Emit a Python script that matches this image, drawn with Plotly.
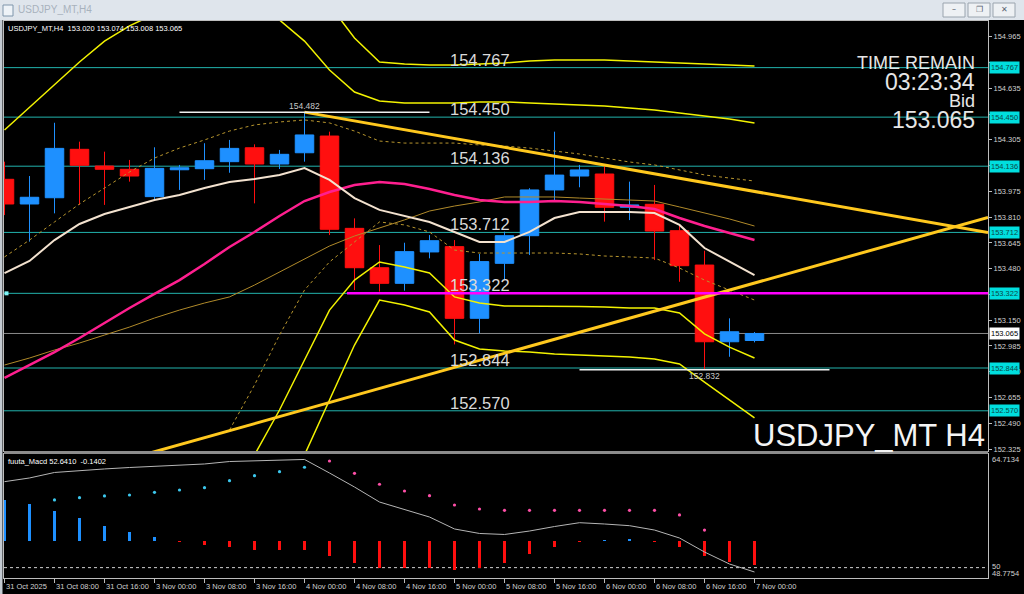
import plotly.graph_objects as go

FONT = "Liberation Sans, Arial, sans-serif"

# ---------------- data ----------------
candle_idx = list(range(31))
opens = [154.052, 153.894, 153.934, 154.244, 154.137, 154.116, 153.941, 154.113, 154.120, 154.165,
         154.254, 154.150, 154.222, 154.329, 153.738, 153.486, 153.386, 153.587, 153.621, 153.162,
         153.514, 153.691, 153.984, 154.073, 154.086, 153.873, 153.892, 153.723, 153.503, 153.012, 153.020]
highs = [154.165, 154.073, 154.414, 154.293, 154.229, 154.176, 154.257, 154.144, 154.283, 154.304,
         154.276, 154.240, 154.482, 154.357, 153.802, 153.631, 153.646, 153.695, 153.663, 153.574,
         153.717, 153.995, 154.357, 154.144, 154.144, 154.037, 154.016, 153.759, 153.595, 153.162, 153.074]
lows = [153.823, 153.653, 153.834, 153.888, 153.888, 154.037, 153.919, 153.984, 154.048, 154.094,
        153.898, 154.118, 154.165, 153.695, 153.343, 153.333, 153.339, 153.546, 152.995, 153.066,
        153.407, 153.567, 153.909, 154.001, 153.781, 153.791, 153.535, 153.396, 152.832, 152.916, 153.008]
closes = [153.894, 153.937, 154.250, 154.142, 154.116, 154.073, 154.122, 154.126, 154.171, 154.250,
          154.150, 154.212, 154.336, 153.732, 153.486, 153.386, 153.589, 153.659, 153.162, 153.525,
          153.691, 153.984, 154.079, 154.112, 153.873, 153.888, 153.721, 153.499, 153.012, 153.076, 153.065]

tick_idx = [0, 2, 4, 6, 8, 10, 12, 14, 16, 18, 20, 22, 24, 26, 28, 30]
tick_labels = ["31 Oct 2025", "31 Oct 08:00", "31 Oct 16:00", "3 Nov 00:00", "3 Nov 08:00",
               "3 Nov 16:00", "4 Nov 00:00", "4 Nov 08:00", "4 Nov 16:00", "5 Nov 00:00",
               "5 Nov 08:00", "5 Nov 16:00", "6 Nov 00:00", "6 Nov 08:00", "6 Nov 16:00", "7 Nov 00:00"]

price_ticks = [152.325, 152.490, 152.655, 152.820, 152.985, 153.150, 153.315, 153.480, 153.645,
               153.810, 153.975, 154.140, 154.305, 154.470, 154.635, 154.800, 154.965]
# ticks whose labels are covered by level tags on the price scale
hidden_ticks = [153.315, 154.140, 154.470, 154.800]

pink_ma = [152.780, 152.863, 152.946, 153.036, 153.132, 153.228, 153.318, 153.407, 153.510, 153.619,
           153.715, 153.817, 153.913, 153.971, 154.016, 154.035, 154.022, 153.990, 153.952, 153.920,
           153.907, 153.907, 153.913, 153.907, 153.894, 153.881, 153.862, 153.804, 153.753, 153.708, 153.663]
white_ma = [153.452, 153.529, 153.663, 153.766, 153.830, 153.875, 153.920, 153.952, 153.996, 154.035,
            154.054, 154.080, 154.124, 154.048, 153.932, 153.856, 153.817, 153.779, 153.715, 153.651,
            153.651, 153.715, 153.804, 153.843, 153.843, 153.843, 153.836, 153.760, 153.612, 153.523, 153.439]
band_up = [153.555, 153.663, 153.779, 153.894, 153.996, 154.099, 154.188, 154.252, 154.304, 154.361,
           154.400, 154.419, 154.432, 154.413, 154.361, 154.297, 154.284, 154.284, 154.284, 154.272,
           154.265, 154.252, 154.233, 154.214, 154.188, 154.163, 154.144, 154.112, 154.080, 154.060, 154.041]
band_mid = [152.863, 152.908, 152.959, 153.004, 153.055, 153.106, 153.164, 153.215, 153.260, 153.299,
            153.375, 153.459, 153.542, 153.625, 153.689, 153.740, 153.792, 153.849, 153.881, 153.907,
            153.939, 153.939, 153.939, 153.932, 153.926, 153.920, 153.913, 153.875, 153.836, 153.798, 153.753]
band_lo = [None, None, None, None, None, None, None, None, None, 152.447,
           152.735, 153.055, 153.343, 153.523, 153.651, 153.779, 153.760, 153.715, 153.599, 153.580,
           153.580, 153.580, 153.580, 153.574, 153.561, 153.555, 153.548, 153.484, 153.407, 153.343, 153.279]
env_up_in = [154.368, 154.515, 154.662, 154.803, 154.937, 155.034, 155.110, None, None, None,
             None, 155.072, 154.937, 154.752, 154.611, 154.553, 154.541, 154.541, 154.541, 154.547,
             154.547, 154.541, 154.534, 154.528, 154.521, 154.509, 154.496, 154.477, 154.457, 154.438, 154.413]
env_up_out = [None] * 13 + [155.168, 154.957, 154.803, 154.790, 154.784, 154.784, 154.790,
                            154.797, 154.809, 154.816, 154.816, 154.816, 154.809, 154.803, 154.797,
                            154.790, 154.784, 154.777]
env_lo_in = [None] * 10 + [152.287, 152.575, 152.895, 153.215, 153.407, 153.523, 153.491, 153.452,
                           153.299, 153.260, 153.241, 153.241, 153.241, 153.238, 153.235, 153.228,
                           153.228, 153.196, 153.062, 152.978, 152.908]
env_lo_out = [None] * 12 + [152.287, 152.639, 152.991, 153.279, 153.247, 153.203, 153.023, 152.966,
                            152.953, 152.946, 152.934, 152.927, 152.921, 152.914, 152.902, 152.870,
                            152.754, 152.639, 152.524]

# trend lines: (candle index, price) end points
trend_down_x = [12, 39.34]
trend_down_y = [154.482, 153.711]
trend_up_x = [5.6, 39.34]
trend_up_y = [152.290, 153.808]

levels = [154.767, 154.450, 154.136, 153.712, 153.322, 152.844, 152.570]
magenta_level = 153.322
magenta_start = 13.7
bid = 153.065
hi_mark = (12, 154.482)
lo_mark = (28, 152.832)
header = "USDJPY_MT,H4\u00a0\u00a0153.020 153.074 153.008 153.065"

# oscillator panel
macd_line = [61.23, 61.71, 62.43, 62.69, 62.89, 63.08, 63.21, 63.41, 63.54, 63.86, 63.93, 63.99,
             64.13, 62.36, 60.53, 58.57, 57.59, 56.61, 55.05, 54.46, 54.33, 54.78, 55.37, 55.87,
             55.70, 55.48, 54.91, 53.87, 52.04, 50.47, 49.43]
macd_hist = [5.36, 4.79, 3.92, 3.04, 2.00, 1.14, 0.48, -0.10, -0.52, -0.74, -1.14, -1.18, -1.18,
             -1.96, -2.91, -3.57, -3.53, -3.53, -3.79, -3.53, -2.87, -1.70, -0.78, -0.10, 0.10,
             0.15, -0.10, -0.74, -1.96, -2.74, -3.14]
hist_base = 53.478
macd_dots = [None, None, 58.84, 59.14, 59.36, 59.49, 59.84, 60.14, 60.44, 61.36, 62.01, 62.53,
             63.11, 63.93, 62.32, 60.89, 60.01, 59.40, 58.18, 57.66, 57.49, 57.49, 57.49, 57.49,
             57.49, 57.49, 57.49, 56.88, 54.91, None, None]
osc_max, osc_level, osc_min = 64.7134, 50, 48.7754
osc_header = "fuuta_Macd 52.6410\u00a0\u00a0-0.1402"

# ---------------- styling ----------------
BULL = "#1E90FF"
BEAR = "#FF0F0F"
LEVEL_C = "#22b3ad"
AX_C = "#bdbdbd"
TXT_C = "#d0d0d0"

W, H = 1024, 594
L, R, T, B = 4, 36, 21, 16
PW, PH = W - L - R, H - T - B


def fx(px):
    return (px - L) / PW


def fy(py):
    return (H - B - py) / PH


XR = [-0.02, 39.34]
main_dom = [fy(451), 1]
osc_dom = [0, fy(454)]

fig = go.Figure()

fig.add_trace(go.Candlestick(
    x=candle_idx, open=opens, high=highs, low=lows, close=closes,
    increasing=dict(line=dict(color=BULL, width=1), fillcolor=BULL),
    decreasing=dict(line=dict(color=BEAR, width=1), fillcolor=BEAR),
    whiskerwidth=0, xaxis="x", yaxis="y", hoverinfo="skip", showlegend=False))


def line(y, color, width, dash="solid", x=candle_idx):
    fig.add_trace(go.Scatter(x=x, y=y, mode="lines", line=dict(color=color, width=width, dash=dash),
                             xaxis="x", yaxis="y", hoverinfo="skip", showlegend=False,
                             connectgaps=False))


line(band_up, "#b8962e", 1, "3px,3px")
line(band_lo, "#b8962e", 1, "3px,3px")
line(band_mid, "#b08a2a", 1)
line(env_up_in, "#f2f200", 1.5)
line(env_up_out, "#f2f200", 1.5)
line(env_lo_in, "#f2f200", 1.5)
line(env_lo_out, "#f2f200", 1.5)
line(pink_ma, "#ff1f8f", 2.5)
line(white_ma, "#f3e2cf", 2)
line(trend_down_y, "#ffc81e", 3, x=trend_down_x)
line(trend_up_y, "#ffc81e", 3, x=trend_up_x)

# small anchor handle of the magenta level at the left edge
fig.add_trace(go.Scatter(x=[XR[0] + 0.1], y=[magenta_level], mode="markers",
                         marker=dict(symbol="square", size=4, color="#7ff5f5"),
                         xaxis="x", yaxis="y", hoverinfo="skip", showlegend=False, cliponaxis=False))

# oscillator
fig.add_trace(go.Bar(x=candle_idx, y=macd_hist, base=hist_base, width=0.12,
                     marker=dict(color=[BULL if v >= 0 else BEAR for v in macd_hist], line=dict(width=0)),
                     xaxis="x2", yaxis="y2", hoverinfo="skip", showlegend=False))
fig.add_trace(go.Scatter(x=candle_idx, y=macd_line, mode="lines", line=dict(color="#b5b5b5", width=1),
                         xaxis="x2", yaxis="y2", hoverinfo="skip", showlegend=False))
fig.add_trace(go.Scatter(x=candle_idx, y=macd_dots, mode="markers",
                         marker=dict(size=3.2, color=["#3cc8ee" if i <= 12 else "#ff4fa8" for i in candle_idx]),
                         xaxis="x2", yaxis="y2", hoverinfo="skip", showlegend=False))

shapes = []
annotations = []

# level lines
for lv in levels:
    shapes.append(dict(type="line", xref="paper", x0=0, x1=1, yref="y", y0=lv, y1=lv,
                       line=dict(color=LEVEL_C, width=1), layer="below"))
    annotations.append(dict(xref="x", x=19, yref="y", y=lv, text=f"{lv:.3f}", showarrow=False,
                            xanchor="center", yanchor="bottom", yshift=-2, borderpad=0,
                            font=dict(family=FONT, size=16.5, color="#dadada")))
    annotations.append(dict(xref="paper", x=1, xshift=1, yref="y", y=lv, text=f"{lv:.3f}",
                            showarrow=False, xanchor="left", yanchor="middle", borderpad=1,
                            bgcolor="#00dede", font=dict(family=FONT, size=7.5, color="#0b4848")))
# bid line
shapes.append(dict(type="line", xref="paper", x0=0, x1=1, yref="y", y0=bid, y1=bid,
                   line=dict(color="#8a8a8a", width=1), layer="below"))
annotations.append(dict(xref="paper", x=1, xshift=1, yref="y", y=bid, text=f"{bid:.3f}",
                        showarrow=False, xanchor="left", yanchor="middle", borderpad=1,
                        bgcolor="#ffffff", font=dict(family=FONT, size=7.5, color="#000000")))
# magenta level
shapes.append(dict(type="line", xref="x", x0=magenta_start, x1=XR[1], yref="y", y0=magenta_level,
                   y1=magenta_level, line=dict(color="#ff00ff", width=2.5), layer="above"))
# high / low marks
for (ci, pv), below in ((hi_mark, False), (lo_mark, True)):
    shapes.append(dict(type="line", xref="x", x0=ci - 5, x1=ci + 5, yref="y", y0=pv, y1=pv,
                       line=dict(color="#f0f0f0", width=1.5), layer="above"))
    annotations.append(dict(xref="x", x=ci, yref="y", y=pv, text=f"{pv:.3f}", showarrow=False,
                            xanchor="center", yanchor="top" if below else "bottom", borderpad=0,
                            font=dict(family=FONT, size=8.5, color="#c8c8c8")))

# oscillator level line 50
shapes.append(dict(type="line", xref="paper", x0=0, x1=1, yref="y2", y0=osc_level, y1=osc_level,
                   line=dict(color="#d0d0d0", width=1, dash="dot"), layer="below"))

# x labels
for ti, tl in zip(tick_idx, tick_labels):
    annotations.append(dict(xref="x2", x=ti, yref="paper", y=0, yshift=-3, text=tl, showarrow=False,
                            xanchor="left", yanchor="top", borderpad=0,
                            font=dict(family=FONT, size=7.5, color=TXT_C)))

# oscillator scale labels
for txt, py in ((f"{osc_max:.4f}", 459.5), (f"{osc_level}", 566), (f"{osc_min:.4f}", 573.5)):
    annotations.append(dict(xref="paper", x=1, xshift=3, yref="paper", y=fy(py), text=txt,
                            showarrow=False, xanchor="left", yanchor="middle", borderpad=0,
                            font=dict(family=FONT, size=7.5, color=TXT_C)))

# headers
annotations.append(dict(xref="paper", x=fx(7), yref="paper", y=fy(28), text=header, showarrow=False,
                        xanchor="left", yanchor="middle", borderpad=0,
                        font=dict(family=FONT, size=7.5, color="#ffffff")))
annotations.append(dict(xref="paper", x=fx(7), yref="paper", y=fy(461), text=osc_header, showarrow=False,
                        xanchor="left", yanchor="middle", borderpad=0,
                        font=dict(family=FONT, size=7.5, color="#ffffff")))

# big info texts
for txt, py, sz in (("TIME REMAIN", 63, 18), ("03:23:34", 82, 23), ("Bid", 101, 18), ("153.065", 120, 23)):
    annotations.append(dict(xref="paper", x=fx(976), yref="paper", y=fy(py), text=txt, showarrow=False,
                            xanchor="right", yanchor="middle", borderpad=0,
                            font=dict(family=FONT, size=sz, color="#e6e6e6")))
annotations.append(dict(xref="paper", x=fx(986), yref="paper", y=fy(435), text="USDJPY_MT H4",
                        showarrow=False, xanchor="right", yanchor="middle", borderpad=0,
                        font=dict(family=FONT, size=31, color="#f4f4f4")))

# separator band between panels
shapes.append(dict(type="rect", xref="paper", x0=0, x1=1, yref="paper", y0=fy(454), y1=fy(451),
                   fillcolor="#8c8c8c", line=dict(width=0), layer="above"))

# window chrome
shapes.append(dict(type="rect", xref="paper", x0=fx(0), x1=fx(W), yref="paper", y0=fy(20), y1=fy(0),
                   fillcolor="#dfe5ec", line=dict(width=0)))
shapes.append(dict(type="rect", xref="paper", x0=fx(0), x1=fx(2.5), yref="paper", y0=fy(H), y1=fy(20),
                   fillcolor="#c3cad2", line=dict(width=0)))
shapes.append(dict(type="rect", xref="paper", x0=fx(3), x1=fx(13), yref="paper", y0=fy(16), y1=fy(5),
                   fillcolor="#eef3f8", line=dict(color="#7f95ab", width=1)))
annotations.append(dict(xref="paper", x=fx(17), yref="paper", y=fy(10), text="USDJPY_MT,H4",
                        showarrow=False, xanchor="left", yanchor="middle", borderpad=0,
                        font=dict(family=FONT, size=10, color="#a8b2bd")))
for bx0, glyph in ((943, "\u2013"), (968, "\u2750"), (993, "\u2715")):
    shapes.append(dict(type="rect", xref="paper", x0=fx(bx0), x1=fx(bx0 + 22), yref="paper",
                       y0=fy(17), y1=fy(3), fillcolor="#eef1f4", line=dict(color="#9aa4ae", width=1)))
    annotations.append(dict(xref="paper", x=fx(bx0 + 11), yref="paper", y=fy(10), text=glyph,
                            showarrow=False, xanchor="center", yanchor="middle", borderpad=0,
                            font=dict(family="DejaVu Sans", size=8, color="#5a6470")))

axis_common = dict(showgrid=False, zeroline=False, showline=True, mirror=True, linecolor=AX_C,
                   linewidth=1, automargin=False)

fig.update_layout(
    template="none",
    width=W, height=H,
    margin=dict(l=L, r=R, t=T, b=B, pad=0),
    paper_bgcolor="#000000", plot_bgcolor="#000000",
    showlegend=False,
    boxgap=0.26, boxgroupgap=0,
    bargap=0,
    shapes=shapes, annotations=annotations,
    xaxis=dict(domain=[0, 1], range=XR, anchor="y", showticklabels=False, ticks="",
               rangeslider=dict(visible=False), **axis_common),
    yaxis=dict(domain=main_dom, range=[152.3126, 155.0655], side="right", tickvals=price_ticks,
               ticktext=["" if v in hidden_ticks else f"{v:.3f}" for v in price_ticks],
               ticks="outside", ticklen=3,
               tickcolor=AX_C, tickfont=dict(family=FONT, size=7.5, color=TXT_C), anchor="x",
               **axis_common),
    xaxis2=dict(domain=[0, 1], range=XR, anchor="y2", matches="x", tickvals=tick_idx,
                ticks="outside", ticklen=4, tickcolor=AX_C, showticklabels=False, **axis_common),
    yaxis2=dict(domain=osc_dom, range=[48.645, 64.843], anchor="x2", showticklabels=False, ticks="",
                **axis_common),
)

fig.write_html("out.html", config={"displayModeBar": False},
               post_script="document.body.style.margin='0px';document.body.style.overflow='hidden';")
